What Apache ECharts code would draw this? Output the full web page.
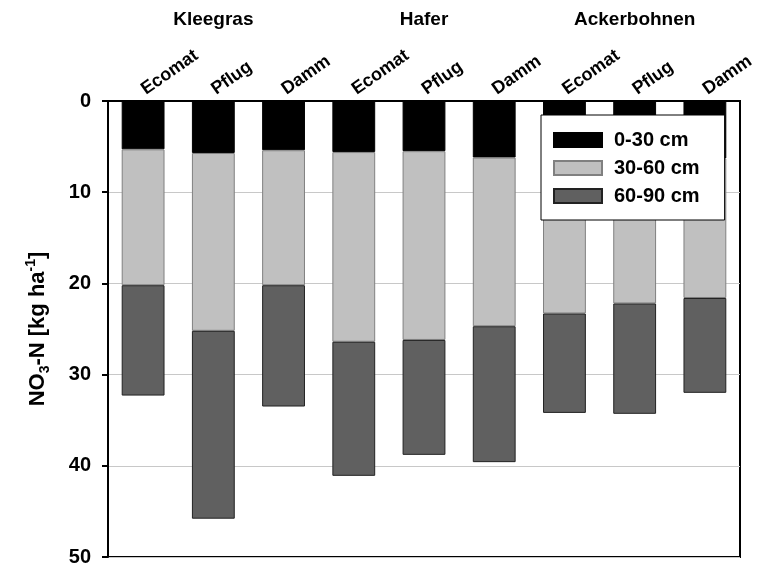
<!DOCTYPE html>
<html>
<head>
<meta charset="utf-8">
<script src="https://cdn.jsdelivr.net/npm/echarts@6/dist/echarts.min.js"></script>
<style>html,body{margin:0;padding:0;background:#fff}#c{width:763px;height:570px}</style>
</head>
<body>
<div id="c"></div>
<script>
var categories = ['Ecomat','Pflug','Damm','Ecomat','Pflug','Damm','Ecomat','Pflug','Damm'];
var groups = ['Kleegras','Hafer','Ackerbohnen'];
var seriesNames = ['0-30 cm','30-60 cm','60-90 cm'];
var depth0_30 = [5.3, 5.7, 5.4, 5.6, 5.5, 6.2, 5.8, 5.6, 6.3];
var depth30_60 = [14.9, 19.5, 14.8, 20.8, 20.7, 18.5, 17.5, 16.6, 15.3];
var depth60_90 = [12.1, 20.6, 13.3, 14.7, 12.6, 14.9, 10.9, 12.1, 10.4];
var yTicks = [0, 10, 20, 30, 40, 50];

var FONT = 'Liberation Sans';
var chart = echarts.init(document.getElementById('c'));
chart.setOption({
  animation: false,
  backgroundColor: '#fff',
  grid: { left: 108, right: 23, top: 101, bottom: 13, show: true, borderColor: '#000', borderWidth: 2 },
  legend: {
    left: 541, top: 115, orient: 'vertical',
    data: seriesNames,
    backgroundColor: '#fff', borderColor: '#000', borderWidth: 1,
    padding: [15, 25, 14, 12],
    itemWidth: 48, itemHeight: 14, itemGap: 8,
    icon: 'rect',
    textStyle: { fontFamily: FONT, fontWeight: 'bold', fontSize: 20, color: '#000', padding: [0, 0, 0, 7] }
  },
  xAxis: [{
    type: 'category', position: 'top', data: categories,
    axisLine: { show: true, lineStyle: { color: '#000', width: 2 } },
    axisTick: { show: false },
    axisLabel: { rotate: 35, margin: 10, fontFamily: FONT, fontWeight: 'bold', fontSize: 18, color: '#000' }
  }, {
    type: 'category', position: 'top', data: groups, offset: 72,
    axisLine: { show: false }, axisTick: { show: false },
    axisLabel: { margin: 0, fontFamily: FONT, fontWeight: 'bold', fontSize: 19, color: '#000' }
  }],
  yAxis: {
    type: 'value', inverse: true, min: yTicks[0], max: yTicks[yTicks.length - 1], interval: 10,
    axisLine: { show: true, lineStyle: { color: '#000', width: 2 } },
    axisTick: { show: true, inside: false, length: 6, lineStyle: { color: '#000', width: 2 } },
    axisLabel: { margin: 17, fontFamily: FONT, fontWeight: 'bold', fontSize: 20, color: '#000' },
    splitLine: { show: true, lineStyle: { color: '#c8c8c8', width: 1 } },
    name: '{a|NO}{sub|3}{a|-N [kg ha}{sup|-1}{a|]}',
    nameLocation: 'middle', nameRotate: 90, nameGap: 56,
    nameTextStyle: {
      color: '#000',
      rich: {
        a: { fontFamily: FONT, fontWeight: 'bold', fontSize: 22, color: '#000', lineHeight: 28 },
        sub: { fontFamily: FONT, fontWeight: 'bold', fontSize: 14, color: '#000', verticalAlign: 'bottom', lineHeight: 28, padding: [12, 0, 0, 0] },
        sup: { fontFamily: FONT, fontWeight: 'bold', fontSize: 14, color: '#000', verticalAlign: 'top', lineHeight: 28, padding: [0, 0, 12, 0] }
      }
    }
  },
  series: [{
    name: seriesNames[0], type: 'bar', stack: 'n', data: depth0_30, barWidth: '61%',
    itemStyle: { color: '#000000', borderColor: '#000', borderWidth: 1 }
  }, {
    name: seriesNames[1], type: 'bar', stack: 'n', data: depth30_60, barWidth: '61%',
    itemStyle: { color: '#c0c0c0', borderColor: '#808080', borderWidth: 1 }
  }, {
    name: seriesNames[2], type: 'bar', stack: 'n', data: depth60_90, barWidth: '61%',
    itemStyle: { color: '#606060', borderColor: '#222', borderWidth: 1 }
  }]
});
</script>
</body>
</html>
